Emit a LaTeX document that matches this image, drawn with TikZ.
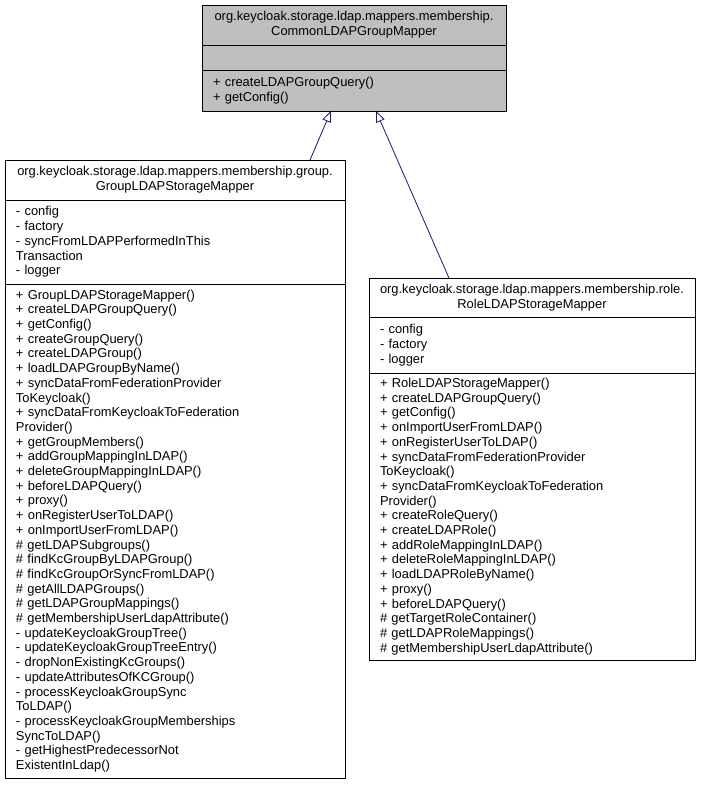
\documentclass[tikz,border=0pt]{standalone}
\usepackage{fontspec}
\setmainfont{Liberation Sans}
\usepackage{tikz}
\usetikzlibrary{positioning,arrows.meta}

\definecolor{grey75}{RGB}{191,191,191}
\definecolor{edgeblue}{RGB}{25,25,112}
\newcommand{\umlfont}{\fontsize{12.9}{14.7}\selectfont}

\tikzset{
umlbox/.style={draw=black, line width=0.8pt, anchor=north west, inner xsep=11pt, inner ysep=3pt, outer sep=0pt, font=\umlfont},
umlhead/.style={umlbox, align=center, minimum height=40pt},
umlbody/.style={umlbox, align=left},
basefill/.style={fill=grey75},
inherit/.style={draw=edgeblue, line width=0.8pt, -{Triangle[open,length=11pt,width=9pt]}}
}

\begin{document}
\begin{tikzpicture}[x=1pt,y=-1pt]
\useasboundingbox (0,0) rectangle (704,785);

% base class
\node[umlhead,basefill,text width=282pt] (basehead) at (202,5)
{org.keycloak.storage.ldap.mappers.membership.\\CommonLDAPGroupMapper};
\node[umlbody,basefill,text width=282pt,minimum height=25pt] (baseattr) at (basehead.south west) {};
\node[umlbody,basefill,text width=282pt,minimum height=41pt] (basemeth) at (baseattr.south west)
{+ createLDAPGroupQuery()\\+ getConfig()};

% group mapper
\node[umlhead,text width=318pt] (grphead) at (5,160)
{org.keycloak.storage.ldap.mappers.membership.group.\\GroupLDAPStorageMapper};
\node[umlbody,text width=318pt,minimum height=84pt] (grpattr) at (grphead.south west)
{- config\\- factory\\- syncFromLDAPPerformedInThis\\Transaction\\- logger};
\node[umlbody,text width=318pt,minimum height=494pt] (grpmeth) at (grpattr.south west)
{+ GroupLDAPStorageMapper()\\+ createLDAPGroupQuery()\\+ getConfig()\\+ createGroupQuery()\\
+ createLDAPGroup()\\+ loadLDAPGroupByName()\\+ syncDataFromFederationProvider\\ToKeycloak()\\
+ syncDataFromKeycloakToFederation\\Provider()\\+ getGroupMembers()\\+ addGroupMappingInLDAP()\\
+ deleteGroupMappingInLDAP()\\+ beforeLDAPQuery()\\+ proxy()\\+ onRegisterUserToLDAP()\\
+ onImportUserFromLDAP()\\\# getLDAPSubgroups()\\\# findKcGroupByLDAPGroup()\\
\# findKcGroupOrSyncFromLDAP()\\\# getAllLDAPGroups()\\\# getLDAPGroupMappings()\\
\# getMembershipUserLdapAttribute()\\- updateKeycloakGroupTree()\\- updateKeycloakGroupTreeEntry()\\
- dropNonExistingKcGroups()\\- updateAttributesOfKCGroup()\\- processKeycloakGroupSync\\ToLDAP()\\
- processKeycloakGroupMemberships\\SyncToLDAP()\\- getHighestPredecessorNot\\ExistentInLdap()};

% role mapper
\node[umlhead,text width=304pt,minimum height=39pt] (rolehead) at (369,278)
{org.keycloak.storage.ldap.mappers.membership.role.\\RoleLDAPStorageMapper};
\node[umlbody,text width=304pt,minimum height=56pt] (roleattr) at (rolehead.south west)
{- config\\- factory\\- logger};
\node[umlbody,text width=304pt,minimum height=287pt] (rolemeth) at (roleattr.south west)
{+ RoleLDAPStorageMapper()\\+ createLDAPGroupQuery()\\+ getConfig()\\+ onImportUserFromLDAP()\\
+ onRegisterUserToLDAP()\\+ syncDataFromFederationProvider\\ToKeycloak()\\
+ syncDataFromKeycloakToFederation\\Provider()\\+ createRoleQuery()\\+ createLDAPRole()\\
+ addRoleMappingInLDAP()\\+ deleteRoleMappingInLDAP()\\+ loadLDAPRoleByName()\\+ proxy()\\
+ beforeLDAPQuery()\\\# getTargetRoleContainer()\\\# getLDAPRoleMappings()\\
\# getMembershipUserLdapAttribute()};

% inheritance
\draw[inherit] ([xshift=-35pt]grphead.north east) -- ([xshift=129pt]basemeth.south west);
\draw[inherit] ([xshift=80pt]rolehead.north west) -- ([xshift=174pt]basemeth.south west);
\end{tikzpicture}
\end{document}
